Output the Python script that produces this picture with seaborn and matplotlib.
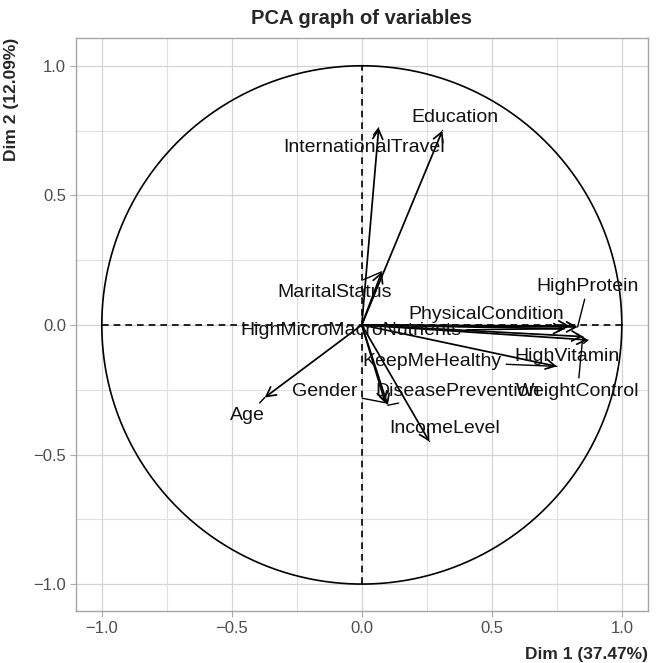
"""
PCA graph of variables (correlation circle)
"""
import matplotlib
matplotlib.use('Agg')
import matplotlib.pyplot as plt
import seaborn as sns
import numpy as np

# variable coordinates on Dim 1 / Dim 2 (arrow tips)
variables = ['InternationalTravel', 'Education', 'MaritalStatus', 'HighMicroMacroNutrients',
             'PhysicalCondition', 'HighProtein', 'HighVitamin', 'WeightControl',
             'KeepMeHealthy', 'DiseasePrevention', 'Gender', 'Age', 'IncomeLevel']
dim1 = [0.065, 0.31, 0.077, 0.78, 0.80, 0.83, 0.87, 0.85, 0.75, 0.10, 0.09, -0.373, 0.26]
dim2 = [0.76, 0.75, 0.205, -0.015, -0.004, -0.008, -0.058, -0.045, -0.16, -0.31, -0.30, -0.28, -0.45]

# where the (repelled) labels ended up
label_x = [0.008, 0.36, -0.104, -0.04, 0.48, 0.87, 0.79, 0.83, 0.27, 0.37, -0.142, -0.44, 0.32]
label_y = [0.683, 0.80, 0.127, -0.023, 0.042, 0.15, -0.12, -0.255, -0.14, -0.255, -0.255, -0.35, -0.40]

ticks = [-1.0, -0.5, 0.0, 0.5, 1.0]
minor_ticks = [-0.75, -0.25, 0.25, 0.75]

sns.set_theme(style='whitegrid')
plt.rcParams['font.family'] = ['Liberation Sans', 'DejaVu Sans']

fig = plt.figure(figsize=(6.59, 6.63), dpi=100)
fig.subplots_adjust(left=0.115, right=0.983, bottom=0.078, top=0.943)
ax = fig.add_subplot(111)

# circle + dashed axes
theta = np.linspace(0, 2 * np.pi, 400)
ax.plot(np.cos(theta), np.sin(theta), color='black', lw=1.2)
ax.plot([-1, 1], [0, 0], color='black', lw=1.2, ls=(0, (4, 3)))
ax.plot([0, 0], [-1, 1], color='black', lw=1.2, ls=(0, (4, 3)))

# arrows
for x, y in zip(dim1, dim2):
    ax.annotate('', xy=(x, y), xytext=(0, 0),
                arrowprops=dict(arrowstyle='->,head_length=0.55,head_width=0.3',
                                color='black', lw=1.25, shrinkA=0, shrinkB=0))

# labels with segments back to the arrow tips
for name, x, y, lx, ly in zip(variables, dim1, dim2, label_x, label_y):
    ax.annotate(name, xy=(x, y), xytext=(lx, ly), ha='center', va='center',
                fontsize=14, color='#111111',
                arrowprops=dict(arrowstyle='-', color='black', lw=1.0,
                                shrinkA=1, shrinkB=0))

ax.set_xlim(-1.1, 1.1)
ax.set_ylim(-1.105, 1.108)
ax.set_xticks(ticks)
ax.set_yticks(ticks)
ax.set_xticks(minor_ticks, minor=True)
ax.set_yticks(minor_ticks, minor=True)
ax.grid(which='major', color='#d4d4d4', lw=0.9)
ax.grid(which='minor', color='#e0e0e0', lw=0.8)
ax.tick_params(axis='both', which='major', labelsize=12, labelcolor='#4d4d4d',
               length=4, width=0.8, color='#aaaaaa', pad=3, bottom=True, left=True)
ax.tick_params(axis='both', which='minor', length=0)
for s in ax.spines.values():
    s.set_color('#a6a6a6')
    s.set_linewidth(1.0)

ax.set_title('PCA graph of variables', fontsize=14.5, fontweight='bold', pad=10)
ax.set_xlabel('Dim 1 (37.47%)', fontsize=12.5, fontweight='bold', loc='right', labelpad=8)
ax.set_ylabel('Dim 2 (12.09%)', fontsize=12.5, fontweight='bold', loc='top', labelpad=10)

plt.savefig('out.png', dpi=100)
